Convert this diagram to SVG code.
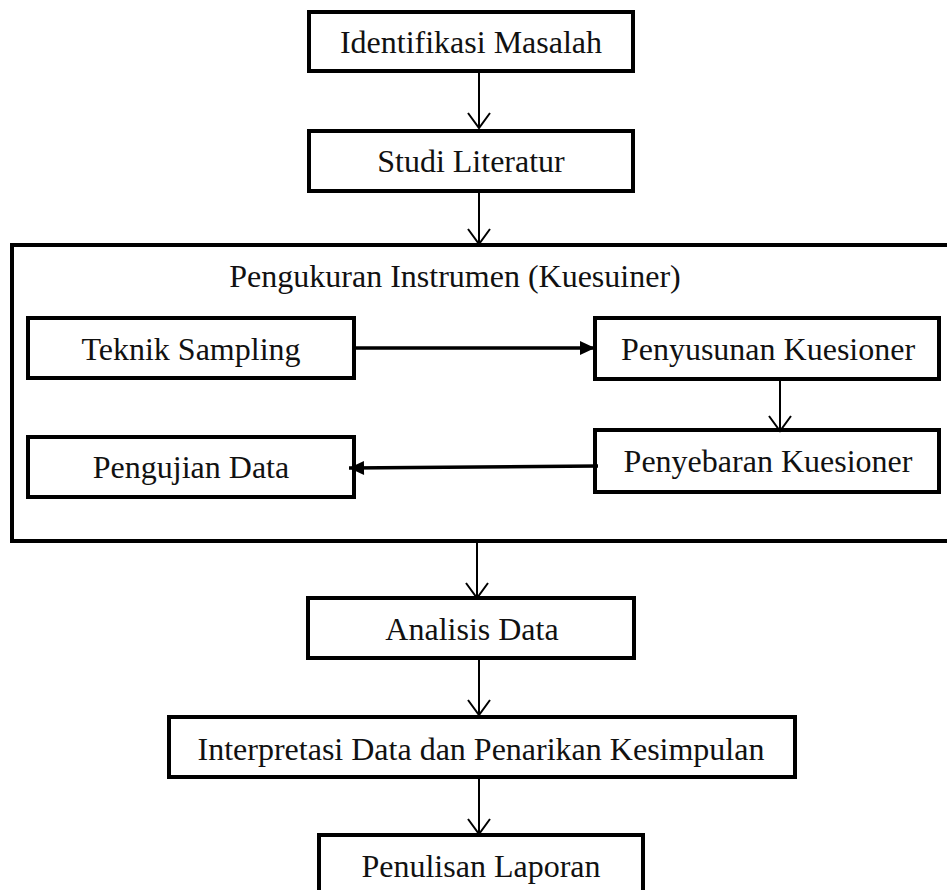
<svg xmlns="http://www.w3.org/2000/svg" width="947" height="890" viewBox="0 0 947 890">
<style>
.box{fill:#fff;stroke:#000;stroke-width:4}
.frame{fill:none;stroke:#000;stroke-width:4}
.t{font-family:"Liberation Serif","Times New Roman",serif;font-size:32px;fill:#111;text-anchor:middle}
.c{fill:none;stroke:#000;stroke-width:2}
.c2{fill:none;stroke:#000;stroke-width:3.5}
</style>
<defs>
<marker id="v" markerUnits="userSpaceOnUse" viewBox="-17 -13 19 26" refX="0" refY="0" markerWidth="19" markerHeight="26" orient="auto" overflow="visible">
<path d="M-15,-11 L0,0 L-15,11" fill="none" stroke="#000" stroke-width="2"/>
</marker>
<marker id="f" markerUnits="userSpaceOnUse" viewBox="-16 -8 17 16" refX="0" refY="0" markerWidth="17" markerHeight="16" orient="auto" overflow="visible">
<path d="M-15,-7 L0,0 L-15,7 Z" fill="#000"/>
</marker>
</defs>
<rect width="947" height="890" fill="#fff"/>
<g id="pengukuran">
<path class="frame" d="M952,245 H12 V541 H952"/>
<text class="t" x="455" y="287">Pengukuran Instrumen (Kuesuiner)</text>
</g>
<g id="identifikasi"><rect class="box" x="309" y="12" width="324" height="59"/><text class="t" x="471" y="53">Identifikasi Masalah</text></g>
<g id="studi"><rect class="box" x="309" y="131" width="324" height="60"/><text class="t" x="471" y="172">Studi Literatur</text></g>
<g id="teknik"><rect class="box" x="28" y="318" width="326" height="60"/><text class="t" x="191" y="360">Teknik Sampling</text></g>
<g id="penyusunan"><rect class="box" x="595" y="318" width="344" height="61"/><text class="t" x="768" y="360">Penyusunan Kuesioner</text></g>
<g id="penyebaran"><rect class="box" x="595" y="430" width="344" height="62"/><text class="t" x="768" y="472">Penyebaran Kuesioner</text></g>
<g id="pengujian"><rect class="box" x="28" y="437" width="326" height="60"/><text class="t" x="191" y="478">Pengujian Data</text></g>
<g id="analisis"><rect class="box" x="308" y="598" width="326" height="60"/><text class="t" x="472" y="640">Analisis Data</text></g>
<g id="interpretasi"><rect class="box" x="169" y="717" width="626" height="60"/><text class="t" x="481" y="760">Interpretasi Data dan Penarikan Kesimpulan</text></g>
<g id="penulisan"><path class="frame" d="M319,892 V835 H643 V892"/><text class="t" x="481" y="877">Penulisan Laporan</text></g>
<g id="connectors">
<line class="c" x1="479" y1="71" x2="479" y2="128" marker-end="url(#v)"/>
<line class="c" x1="479" y1="191" x2="479" y2="244" marker-end="url(#v)"/>
<line class="c" x1="477" y1="541" x2="477" y2="598" marker-end="url(#v)"/>
<line class="c" x1="479" y1="658" x2="479" y2="715" marker-end="url(#v)"/>
<line class="c" x1="479" y1="777" x2="479" y2="834" marker-end="url(#v)"/>
<line class="c" x1="780" y1="379" x2="780" y2="431" marker-end="url(#v)"/>
<line class="c2" x1="354" y1="348" x2="595" y2="348" marker-end="url(#f)"/>
<line class="c2" x1="598" y1="466" x2="349" y2="468" marker-end="url(#f)"/>
</g>
</svg>
